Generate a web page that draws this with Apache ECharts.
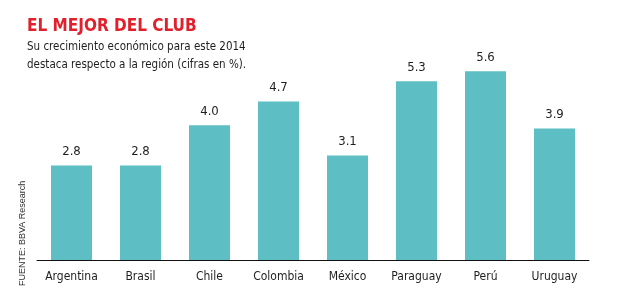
<!DOCTYPE html>
<html>
<head>
<meta charset="utf-8">
<script src="https://cdn.jsdelivr.net/npm/echarts@6/dist/echarts.min.js"></script>
<style>
  html, body { margin: 0; padding: 0; background: #fff; }
  #chart { width: 620px; height: 307px; }
</style>
</head>
<body>
<div id="chart"></div>
<script>
const countries = ['Argentina', 'Brasil', 'Chile', 'Colombia', 'México', 'Paraguay', 'Perú', 'Uruguay']
const growth = [2.8, 2.8, 4.0, 4.7, 3.1, 5.3, 5.6, 3.9]

const narrow = "'DejaVu Sans Condensed', 'Liberation Sans Narrow', sans-serif"
const barColor = '#5dbec3'
const textColor = '#1e1e1e'

const chart = echarts.init(document.getElementById('chart'))
chart.setOption({
  animation: false,
  title: {
    text: 'EL MEJOR DEL CLUB',
    subtext: 'Su crecimiento económico para este 2014\ndestaca respecto a la región (cifras en %).',
    left: 22,
    top: 13,
    itemGap: 3,
    textStyle: {
      color: '#e2202c',
      fontFamily: narrow,
      fontWeight: 'bold',
      fontSize: 17
    },
    subtextStyle: {
      color: textColor,
      fontFamily: narrow,
      fontSize: 11.5,
      lineHeight: 18
    }
  },
  graphic: [
    {
      type: 'text',
      x: 18,
      y: 286,
      rotation: Math.PI / 2,
      style: {
        text: 'FUENTE: BBVA Research',
        fill: '#333',
        font: "9px 'Liberation Sans', Arial, sans-serif"
      }
    }
  ],
  grid: {
    left: 37,
    right: 31,
    top: 24,
    bottom: 47
  },
  xAxis: {
    type: 'category',
    data: countries,
    axisLine: { lineStyle: { color: '#111', width: 1 } },
    axisTick: { show: false },
    axisLabel: {
      interval: 0,
      color: textColor,
      fontFamily: narrow,
      fontSize: 12,
      margin: 11
    }
  },
  yAxis: {
    type: 'value',
    min: 0,
    max: 7,
    show: false,
    splitLine: { show: false }
  },
  series: [
    {
      type: 'bar',
      data: growth,
      barWidth: 41,
      itemStyle: { color: barColor },
      label: {
        show: true,
        position: 'top',
        distance: 7,
        color: textColor,
        fontFamily: narrow,
        fontSize: 13,
        formatter: p => p.value.toFixed(1)
      }
    }
  ]
})
</script>
</body>
</html>
